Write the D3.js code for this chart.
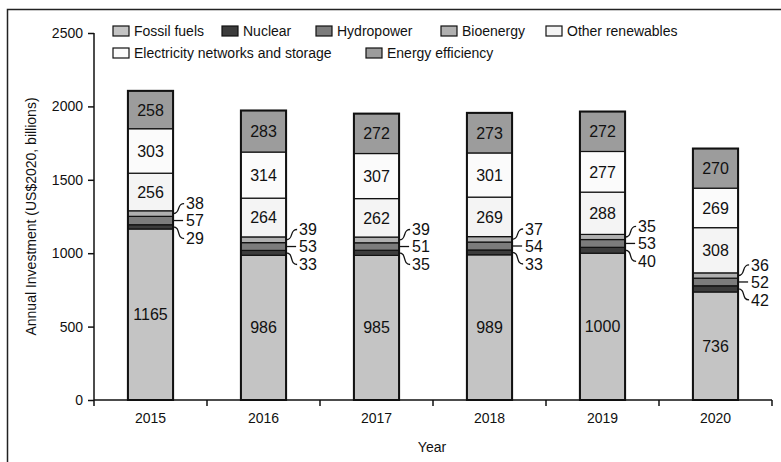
<!DOCTYPE html>
<html>
<head>
<meta charset="utf-8">
<script src="https://cdn.jsdelivr.net/npm/d3@7"></script>
<style>
  body { margin: 0; background: #fff; }
  svg text { font-family: "Liberation Sans", Arial, sans-serif; fill: #111; }
</style>
</head>
<body>
<div id="chart"></div>
<script>
// data, bottom to top
var years = ["2015", "2016", "2017", "2018", "2019", "2020"];
var seriesNames = ["Fossil fuels", "Nuclear", "Hydropower", "Bioenergy",
                   "Other renewables", "Electricity networks and storage", "Energy efficiency"];
var fossil     = [1165, 986, 985, 989, 1000, 736];
var nuclear    = [29, 33, 35, 33, 40, 42];
var hydro      = [57, 53, 51, 54, 53, 52];
var bio        = [38, 39, 39, 37, 35, 36];
var otherRen   = [256, 264, 262, 269, 288, 308];
var networks   = [303, 314, 307, 301, 277, 269];
var efficiency = [258, 283, 272, 273, 272, 270];
var yTicks = [0, 500, 1000, 1500, 2000, 2500];

var colors = ["#c4c4c4", "#3c3c3c", "#7c7c7c", "#b0b0b0", "#f4f4f4", "#fbfbfb", "#9c9c9c"];

var width = 781, height = 462;
var margin = {left: 94, right: 9, top: 33, bottom: 62};

var svg = d3.select("#chart").append("svg")
	.attr("width", width)
	.attr("height", height);

// frame (cut off at right and bottom)
svg.append("rect")
	.attr("x", 7.5).attr("y", 9.5)
	.attr("width", 820).attr("height", 520)
	.attr("fill", "none").attr("stroke", "#222").attr("stroke-width", 1.5);

var x = d3.scaleBand()
	.domain(years)
	.range([margin.left, width - margin.right])
	.paddingInner(0.6)
	.paddingOuter(0.3);

var y = d3.scaleLinear()
	.domain([0, 2500])
	.range([height - margin.bottom, margin.top]);

var table = years.map(function(yr, i) {
	return {year: yr, s0: fossil[i], s1: nuclear[i], s2: hydro[i], s3: bio[i],
	        s4: otherRen[i], s5: networks[i], s6: efficiency[i]};
});
var keys = ["s0", "s1", "s2", "s3", "s4", "s5", "s6"];
var stacked = d3.stack().keys(keys)(table);

// bars
var layers = svg.selectAll("g.layer")
	.data(stacked)
	.enter().append("g")
	.attr("class", "layer")
	.attr("fill", function(d, i) { return colors[i]; });

layers.selectAll("rect")
	.data(function(d) { return d; })
	.enter().append("rect")
	.attr("x", function(d) { return x(d.data.year); })
	.attr("y", function(d) { return y(d[1]); })
	.attr("width", x.bandwidth())
	.attr("height", function(d) { return y(d[0]) - y(d[1]); })
	.attr("stroke", "#111")
	.attr("stroke-width", 1.2);

// bar outlines
svg.selectAll("rect.outline")
	.data(table)
	.enter().append("rect")
	.attr("class", "outline")
	.attr("x", function(d) { return x(d.year); })
	.attr("y", function(d, i) { return y(stacked[6][i][1]); })
	.attr("width", x.bandwidth())
	.attr("height", function(d, i) { return y(0) - y(stacked[6][i][1]); })
	.attr("fill", "none")
	.attr("stroke", "#111")
	.attr("stroke-width", 2);

// labels inside big segments
[0, 4, 5, 6].forEach(function(k) {
	svg.selectAll("text.in" + k)
		.data(stacked[k])
		.enter().append("text")
		.attr("x", function(d) { return x(d.data.year) + x.bandwidth() / 2; })
		.attr("y", function(d) { return (y(d[0]) + y(d[1])) / 2; })
		.attr("dy", "0.36em")
		.attr("text-anchor", "middle")
		.style("font-size", "16px")
		.text(function(d) { return d[1] - d[0]; });
});

// small segment labels with leader lines
var mid = function(d) { return (y(d[0]) + y(d[1])) / 2; };
var small = [
	{k: 3, off: -17},
	{k: 2, off: 0},
	{k: 1, off: 18}
];
small.forEach(function(s) {
	var g = svg.selectAll("g.small" + s.k)
		.data(stacked[s.k])
		.enter().append("g");
	g.append("path")
		.attr("fill", "none")
		.attr("stroke", "#111")
		.attr("stroke-width", 1.3)
		.attr("d", function(d, i) {
			var x0 = x(d.data.year) + x.bandwidth();
			var y0 = mid(d);
			var yl = mid(stacked[2][i]) + s.off;
			if (s.off === 0) {
				return "M" + x0 + "," + y0 + "H" + (x0 + 10);
			}
			return "M" + x0 + "," + y0 + "C" + (x0 + 8) + "," + y0 + " " +
				(x0 + 3) + "," + yl + " " + (x0 + 11) + "," + yl;
		});
	g.append("text")
		.attr("x", function(d) { return x(d.data.year) + x.bandwidth() + 13; })
		.attr("y", function(d, i) { return mid(stacked[2][i]) + s.off; })
		.attr("dy", "0.36em")
		.style("font-size", "16px")
		.text(function(d) { return d[1] - d[0]; });
});

// y axis
var yAxis = svg.append("g")
	.attr("transform", "translate(" + margin.left + ",0)")
	.call(d3.axisLeft(y).tickValues(yTicks).tickFormat(d3.format("d")).tickSize(6).tickPadding(5));
yAxis.select(".domain").attr("stroke", "#111").attr("stroke-width", 1.5)
	.attr("d", "M0," + y(0) + "V" + y(2500));
yAxis.selectAll(".tick line").attr("stroke", "#111").attr("stroke-width", 1.5);
yAxis.selectAll(".tick text").style("font-size", "14px")
	.style("font-family", "'Liberation Sans', Arial, sans-serif").attr("fill", "#111");

// x axis: line with ticks at band boundaries
var x0px = margin.left, x1px = width - margin.right;
svg.append("line")
	.attr("x1", x0px).attr("x2", x1px)
	.attr("y1", y(0)).attr("y2", y(0))
	.attr("stroke", "#111").attr("stroke-width", 1.5);
svg.selectAll("line.xtick")
	.data(d3.range(years.length + 1))
	.enter().append("line")
	.attr("x1", function(i) { return x0px + i * x.step(); })
	.attr("x2", function(i) { return x0px + i * x.step(); })
	.attr("y1", y(0)).attr("y2", y(0) + 6)
	.attr("stroke", "#111").attr("stroke-width", 1.5);
svg.selectAll("text.xlab")
	.data(years)
	.enter().append("text")
	.attr("x", function(d) { return x(d) + x.bandwidth() / 2; })
	.attr("y", y(0) + 23)
	.attr("text-anchor", "middle")
	.style("font-size", "14px")
	.text(function(d) { return d; });

// axis titles
svg.append("text")
	.attr("transform", "translate(36," + ((y(0) + y(2500)) / 2) + ") rotate(-90)")
	.attr("text-anchor", "middle")
	.style("font-size", "14px")
	.text("Annual Investment (US$2020, billions)");
svg.append("text")
	.attr("x", 432).attr("y", 452)
	.attr("text-anchor", "middle")
	.style("font-size", "14px")
	.text("Year");

// legend
var legendPos = [
	{x: 113, y: 31}, {x: 222, y: 31}, {x: 316, y: 31}, {x: 441, y: 31}, {x: 546, y: 31},
	{x: 113, y: 53}, {x: 366, y: 53}
];
var leg = svg.selectAll("g.legend")
	.data(seriesNames)
	.enter().append("g")
	.attr("class", "legend")
	.attr("transform", function(d, i) {
		return "translate(" + legendPos[i].x + "," + legendPos[i].y + ")";
	});
leg.append("rect")
	.attr("x", 0).attr("y", -5)
	.attr("width", 16).attr("height", 10)
	.attr("fill", function(d, i) { return colors[i]; })
	.attr("stroke", "#111").attr("stroke-width", 1.2);
leg.append("text")
	.attr("x", 21)
	.attr("dy", "0.36em")
	.style("font-size", "14px")
	.text(function(d) { return d; });
</script>
</body>
</html>
